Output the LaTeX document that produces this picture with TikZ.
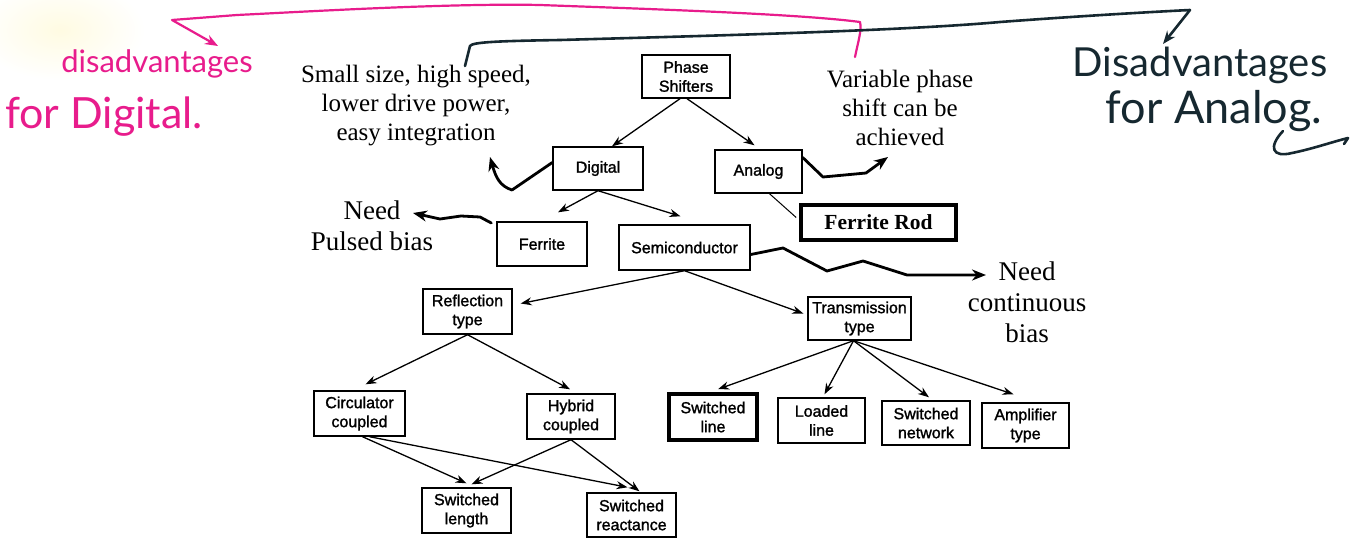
\documentclass[tikz,border=0pt]{standalone}
\usepackage{fontspec}
\setmainfont{Liberation Serif}
\newfontfamily\boxfont[FakeBold=1.4]{Liberation Sans}
\newfontfamily\handfont{Lato}
\usetikzlibrary{arrows.meta}
\definecolor{hotpink}{RGB}{232,28,140}
\definecolor{inkdark}{RGB}{22,40,48}
\definecolor{paleyellow}{RGB}{255,251,226}

\begin{document}
\begin{tikzpicture}[x=1pt,y=-1pt,
  box/.style={draw, line width=1.4pt, fill=white, inner sep=0pt, align=center,
    font=\boxfont\fontsize{16}{19}\selectfont},
  heavybox/.style={box, line width=3.6pt},
  link/.style={line width=1.3pt, -{Stealth[length=11pt,width=8pt]}},
  plain/.style={line width=1pt},
  scribble/.style={line width=2.8pt, line join=round, line cap=round,
    -{Stealth[length=14pt,width=11pt]}},
  note/.style={align=center, inner sep=0pt, font=\fontsize{25}{29}\selectfont},
  bignote/.style={align=center, inner sep=0pt, font=\fontsize{27}{31}\selectfont},
  pinkpen/.style={hotpink, line width=2.2pt, line cap=round, line join=round},
  inkpen/.style={inkdark, line width=2.6pt, line cap=round, line join=round},
  handpink/.style={hotpink, inner sep=0pt, font=\handfont\fontsize{31}{36}\selectfont},
  handink/.style={inkdark, inner sep=0pt, font=\handfont\fontsize{40}{46}\selectfont}
]
\useasboundingbox (0,0) rectangle (1364,538);
\fill[white] (0,0) rectangle (1364,538);
\shade[inner color=paleyellow, outer color=white] (60,30) ellipse [x radius=85, y radius=50];

% ---- tree of phase shifter types ----
\node[box, minimum width=88, minimum height=43] (ps) at (686,76.5) {Phase\\Shifters};
\node[box, minimum width=90, minimum height=43] (dig) at (598,168.5) {Digital};
\node[box, minimum width=87, minimum height=43] (ana) at (758.5,171.5) {Analog};
\node[heavybox, minimum width=155, minimum height=35,
      font=\bfseries\fontsize{21.5}{24}\selectfont] (rod) at (878.5,222.5) {Ferrite Rod};
\node[box, minimum width=90, minimum height=44] (fer) at (542,244) {Ferrite};
\node[box, minimum width=131, minimum height=45] (semi) at (684.5,247.5) {Semiconductor};
\node[box, minimum width=89, minimum height=45] (refl) at (467.5,311.5) {Reflection\\type};
\node[box, minimum width=103, minimum height=43] (trans) at (859.5,318.5) {Transmission\\type};
\node[box, minimum width=91, minimum height=45] (circ) at (359.5,413.5) {Circulator\\coupled};
\node[box, minimum width=88, minimum height=45] (hyb) at (571,416.5) {Hybrid\\coupled};
\node[box, minimum width=89, minimum height=45] (slen) at (466.5,510.5) {Switched\\length};
\node[box, minimum width=89, minimum height=44] (sreact) at (631.5,515) {Switched\\reactance};
\node[heavybox, minimum width=88, minimum height=46] (sline) at (713,417) {Switched\\line};
\node[box, minimum width=87, minimum height=45] (lline) at (821.5,420.5) {Loaded\\line};
\node[box, minimum width=88, minimum height=44] (snet) at (926,423) {Switched\\network};
\node[box, minimum width=87, minimum height=45] (amp) at (1025.5,425.5) {Amplifier\\type};

% ---- printed remarks ----
\node[note] (adv) at (416,106) {Small size, high speed,\\lower drive power,\\easy integration};
\node[note] (var) at (900,108) {Variable phase\\shift can be\\achieved};
\node[bignote] (needp) at (372,226) {Need\\Pulsed bias};
\node[bignote] (needc) at (1027,302) {Need\\continuous\\bias};

% ---- tree connectors ----
\draw[link] ([xshift=-6pt]ps.south) -- ([xshift=14pt]dig.north);
\draw[link] ([xshift=1pt]ps.south) -- ([xshift=-4pt,yshift=4pt]ana.north);
\draw[link] (dig.south) -- ([xshift=16pt,yshift=9pt]fer.north);
\draw[link] (dig.south) -- ([xshift=-4pt,yshift=8pt]semi.north);
\draw[link] (semi.south) -- ([xshift=8pt,yshift=8pt]refl.east);
\draw[link] (semi.south) -- ([xshift=-4pt,yshift=5pt]trans.west);
\draw[link] (refl.south) -- ([xshift=6pt,yshift=6pt]circ.north);
\draw[link] (refl.south) -- ([xshift=-1pt,yshift=4pt]hyb.north);
\draw[link] ([xshift=3pt]circ.south) -- ([yshift=4pt]slen.north);
\draw[link] ([xshift=10pt]circ.south) -- ([xshift=-4pt,yshift=5pt]sreact.north);
\draw[link] (hyb.south) -- ([xshift=5pt,yshift=3pt]slen.north);
\draw[link] (hyb.south) -- ([xshift=8pt,yshift=1pt]sreact.north);
\draw[link] ([xshift=-6pt]trans.south) -- ([xshift=5pt,yshift=3pt]sline.north);
\draw[link] ([xshift=-6pt]trans.south) -- ([xshift=3pt,yshift=3pt]lline.north);
\draw[link] ([xshift=-6pt]trans.south) -- ([xshift=3pt,yshift=3pt]snet.north);
\draw[link] ([xshift=-6pt]trans.south) -- ([xshift=-12pt,yshift=8pt]amp.north);
\draw[plain] ([xshift=11pt]ana.south) -- ([xshift=-3pt,yshift=5pt]rod.west);

% ---- hand-drawn arrows to the remarks ----
\coordinate (tipAdv) at (490,157);
\coordinate (tipVar) at (888,157);
\coordinate (tipNp) at (413,213);
\coordinate (tipNc) at (986,275);
\draw[scribble] ([yshift=6pt]dig.west) -- (512,190) .. controls (500,186) and (496,178) .. (tipAdv);
\draw[scribble] ([yshift=14pt]ana.east) -- (823,177) -- (866,173) -- (tipVar);
\draw[scribble] ([xshift=-5pt,yshift=21pt]fer.west) -- (480,217) -- (461,216) -- (440,219) -- (tipNp);
\draw[scribble] ([yshift=-7pt]semi.east) -- (783,248) -- (827,271) -- (863,261) -- (907,275)
  -- (953,275) -- (tipNc);

% ---- handwritten annotations ----
\node[handpink] (hd1) at (157,64) {disadvantages};
\node[handpink, font=\handfont\fontsize{43}{48}\selectfont] (hd2) at (104,117) {for Digital.};
\node[handink] (ha1) at (1200,65) {Disadvantages};
\node[handink, font=\handfont\fontsize{45}{50}\selectfont] (ha2) at (1214,111) {for Analog.};

\coordinate (pinkStart) at (855,57);
\coordinate (pinkTip) at (218,46);
\draw[pinkpen, -{Stealth[length=13pt,width=10pt]}] (pinkStart) .. controls (858,42) and (862,30) .. (860,22)
  .. controls (800,14) and (650,9) .. (540,5)
  .. controls (450,3) and (300,12) .. (237,15) -- (172,20) -- (pinkTip);

\coordinate (inkStart) at (465,66);
\coordinate (inkTip) at (1163,44);
\draw[inkpen, -{Stealth[length=13pt,width=10pt]}] (inkStart) -- (470,46)
  .. controls (472,42) and (500,41) .. (560,40)
  .. controls (700,36) and (900,31) .. (1000,22)
  .. controls (1080,16) and (1150,12) .. (1190,10) -- (inkTip);

\draw[inkpen] (1283,131) .. controls (1268,147) and (1272,158) .. (1292,153)
  .. controls (1312,149) and (1332,142) .. (1348,138) -- (1344,144);
\end{tikzpicture}
\end{document}
